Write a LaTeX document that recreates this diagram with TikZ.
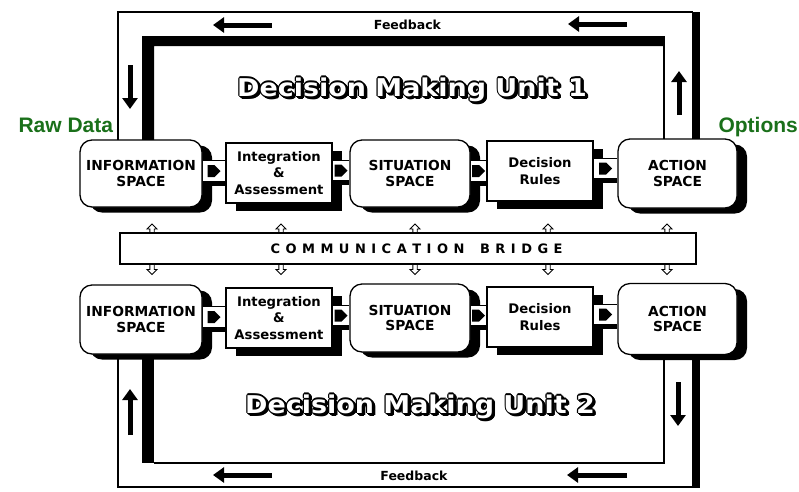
\documentclass[tikz,border=0pt]{standalone}
\usepackage{fontspec}
\usepackage{graphicx}
\usetikzlibrary{arrows.meta,shadows,calc}

\newfontfamily\dv{DejaVu Sans}
\newfontfamily\lib{Liberation Sans}
\definecolor{labelgreen}{RGB}{26,112,26}

% letter-spaced caps for the bridge caption
\newlength\spreadgap
\setlength\spreadgap{5.5pt}
\newcommand\spreadletters[1]{\spreadaux#1\relax}
\def\spreadaux#1{\ifx\relax#1\else#1\kern\spreadgap\expandafter\spreadaux\fi}

% hollow lettering: black outline with a drop shadow, white face
\newcommand\hollowtext[1]{%
  \leavevmode
  \foreach \sx/\sy in {0/0,1/1,2/2}{%
    \foreach \a in {0,45,...,315}{%
      \pgfmathsetlengthmacro\hx{\sx*1pt+1.1pt*cos(\a)}%
      \pgfmathsetlengthmacro\hy{-\sy*1pt+1.1pt*sin(\a)}%
      \rlap{\kern\hx\raise\hy\hbox{\color{black}#1}}%
    }%
  }%
  \rlap{\color{white}#1}\phantom{#1}}

\tikzset{
  wall/.style={line width=1.2pt, draw=black},
  spacebox/.style={draw, line width=1.3pt, fill=white, rounded corners=12pt,
    align=center, inner sep=0pt,
    font=\dv\bfseries\fontsize{13.8}{15.5}\selectfont,
    general shadow={fill=black, shadow xshift=10pt, shadow yshift=-5.5pt}},
  procbox/.style={draw, line width=1.3pt, fill=white,
    align=center, inner sep=0pt,
    font=\dv\bfseries\fontsize{13.2}{16.5}\selectfont,
    general shadow={fill=black, shadow xshift=10pt, shadow yshift=-8pt}},
  fbarrow/.style={line width=5pt, -{Triangle[length=11pt,width=15pt]}},
  fblabel/.style={anchor=base, font=\dv\bfseries\fontsize{12.5}{14}\selectfont},
  titletext/.style={anchor=base, font=\dv\bfseries\fontsize{24.5}{28}\selectfont},
  sidelabel/.style={anchor=base west, text=labelgreen,
    font=\lib\bfseries\fontsize{21}{24}\selectfont},
  uptick/.pic={\draw[fill=white, line width=0.9pt]
    (0,0) -- (5,5) -- (2.2,5) -- (2.2,11) -- (-2.2,11) -- (-2.2,5) -- (-5,5) -- cycle;},
  downtick/.pic={\draw[fill=white, line width=0.9pt]
    (0,0) -- (5,-5) -- (2.2,-5) -- (2.2,-11) -- (-2.2,-11) -- (-2.2,-5) -- (-5,-5) -- cycle;}
}

% link between two neighbouring boxes: white slot, shadow band, block arrow
\newcommand\linkbox[2]{%
  \fill[black] ($(#1.east)+(0,6)$) rectangle ($(#2.west |- #1.east)+(0,12)$);
  \fill[white] ($(#1.east)+(0,-13)$) rectangle ($(#2.west |- #1.east)+(0,7.5)$);
  \draw[line width=1pt] ($(#1.east)+(0,-13)$) -- ($(#2.west |- #1.east)+(0,-13)$)
                        ($(#1.east)+(0,7.5)$) -- ($(#2.west |- #1.east)+(0,7.5)$);
  \coordinate (linkmid) at ($(#1.east)!0.5!(#2.west |- #1.east)$);
  \fill[black] ($(linkmid)+(-6.5,-8.5)$) -- ($(linkmid)+(0.5,-8.5)$) -- ($(linkmid)+(6.5,-2.5)$)
     -- ($(linkmid)+(0.5,3.5)$) -- ($(linkmid)+(-6.5,3.5)$) -- cycle;
}

\begin{document}
\begin{tikzpicture}[x=1pt,y=-1pt]
\fill[white] (0,0) rectangle (799,491);
\useasboundingbox (0,0) rectangle (799,491);

% ---------- feedback channel of unit 1 ----------
\draw[wall] (118,141) -- (118,12) -- (693,12);
\fill[black] (692,12) rectangle (700,140);
\fill[black] (142,36) -- (664,36) -- (664,46) -- (154,46) -- (154,141) -- (142,141) -- cycle;
\draw[wall] (664,36) -- (664,140);

% ---------- feedback channel of unit 2 ----------
\draw[wall] (118,350) -- (118,487);
\draw[line width=2.6pt] (117.4,487) -- (700,487);
\fill[black] (692,350) rectangle (700,488.3);
\fill[black] (142,350) rectangle (154,463);
\draw[wall] (154,463) -- (664,463) -- (664,350);

% ---------- feedback arrows ----------
\coordinate (ta1) at (272,25);  \coordinate (th1) at (213,25);
\coordinate (ta2) at (627,24);  \coordinate (th2) at (568,24);
\coordinate (la1) at (130,65);  \coordinate (lh1) at (130,109);
\coordinate (ra1) at (679,115); \coordinate (rh1) at (679,71);
\coordinate (ba1) at (272,475); \coordinate (bh1) at (213,475);
\coordinate (ba2) at (627,475); \coordinate (bh2) at (567,475);
\coordinate (la2) at (130,435); \coordinate (lh2) at (130,389);
\coordinate (ra2) at (678,382); \coordinate (rh2) at (678,426);
\foreach \s/\e in {ta1/th1,ta2/th2,la1/lh1,ra1/rh1,ba1/bh1,ba2/bh2,la2/lh2,ra2/rh2}
  \draw[fbarrow] (\s) -- (\e);

\node[fblabel] (fbtop) at (407.5,29) {Feedback};
\node[fblabel] (fbbottom) at (414,480) {Feedback};

% ---------- unit titles ----------
\node[titletext] (title1) at (412,96) {\scalebox{1.1}[1]{\hollowtext{Decision Making Unit 1}}};
\node[titletext] (title2) at (420,413) {\scalebox{1.1}[1]{\hollowtext{Decision Making Unit 2}}};

% ---------- unit 1 ----------
\node[spacebox, minimum width=122pt, minimum height=67pt] (info1) at (141,173.5) {INFORMATION\\SPACE};
\node[procbox, minimum width=106pt, minimum height=60pt] (integ1) at (279,173) {Integration\\\&\\Assessment};
\node[spacebox, minimum width=120pt, minimum height=67pt] (sit1) at (410,173.5) {SITUATION\\SPACE};
\node[procbox, minimum width=106pt, minimum height=60pt] (rules1) at (540,171) {Decision\\Rules};
\node[spacebox, minimum width=119pt, minimum height=69pt] (act1) at (677.5,173.5) {ACTION\\SPACE};
\linkbox{info1}{integ1}
\linkbox{integ1}{sit1}
\linkbox{sit1}{rules1}
\linkbox{rules1}{act1}

% ---------- unit 2 ----------
\node[spacebox, minimum width=122pt, minimum height=69pt] (info2) at (141,319.5) {INFORMATION\\SPACE};
\node[procbox, minimum width=106pt, minimum height=60pt] (integ2) at (279,318) {Integration\\\&\\Assessment};
\node[spacebox, minimum width=120pt, minimum height=68pt] (sit2) at (410,318) {SITUATION\\SPACE};
\node[procbox, minimum width=106pt, minimum height=60pt] (rules2) at (540,317) {Decision\\Rules};
\node[spacebox, minimum width=119pt, minimum height=71pt] (act2) at (677.5,319) {ACTION\\SPACE};
\linkbox{info2}{integ2}
\linkbox{integ2}{sit2}
\linkbox{sit2}{rules2}
\linkbox{rules2}{act2}

% ---------- communication bridge ----------
\foreach \x in {152,281,415,548,667} {
  \pic at (\x,224) {uptick};
  \pic at (\x,274.5) {downtick};
}
\node[draw, line width=1.2pt, fill=white, minimum width=576pt, minimum height=31pt, inner sep=0pt]
  (bridge) at (408,248.5) {};
\node[font=\dv\bfseries\fontsize{13}{15}\selectfont, inner sep=0pt]
  (bridgetext) at (419.3,248.5) {\spreadletters{COMMUNICATION~BRIDGE}};

% ---------- outside labels ----------
\node[sidelabel] (rawdata) at (15,132) {Raw Data};
\node[sidelabel] (options) at (715,132) {Options};
\end{tikzpicture}
\end{document}
